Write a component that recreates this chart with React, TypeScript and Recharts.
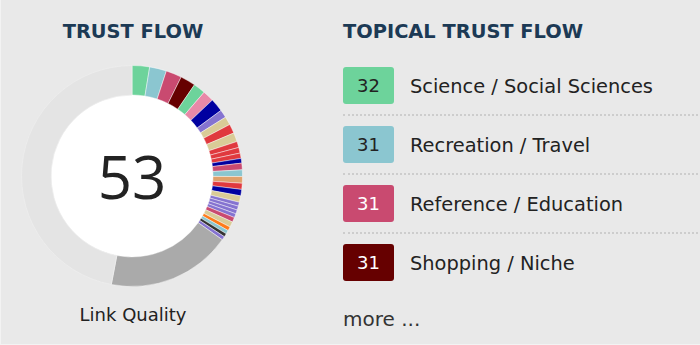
import React from "react"
import { PieChart, Pie, Cell } from "recharts"

// overall trust flow score, shown in the middle of the ring
const trustFlow = 53

// topical slices, clockwise from 12 o'clock (share of the whole ring, %)
const sliceColors = [
  "#6dd39b", "#8bc6d0", "#c94a70", "#660000", "#6dd39b", "#e888a8", "#0000a0", "#8573d0",
  "#d9cb97", "#e0393e", "#d9cb97", "#e0393e", "#e0393e", "#e0393e", "#0000a0", "#c94a70",
  "#8bc6d0", "#e0a06a", "#e0393e", "#0000a0", "#d9cb97", "#8573d0", "#8573d0", "#8573d0",
  "#8573d0", "#c94a70", "#d9cb97", "#ff7b1a", "#8bc6d0", "#333333", "#8573d0",
]
const sliceShares = [
  2.56, 2.47, 2.31, 2.22, 1.75, 1.64, 1.94, 1.17,
  1.22, 1.36, 1.31, 0.89, 0.83, 0.78, 0.69, 0.97,
  0.97, 0.97, 0.89, 0.94, 0.94, 0.58, 0.58, 0.58,
  0.58, 0.69, 0.81, 0.58, 0.53, 0.5, 0.53,
]

const topicScores = [32, 31, 31, 31]
const topicNames = ["Science / Social Sciences", "Recreation / Travel", "Reference / Education", "Shopping / Niche"]
const topicColors = ["#6dd39b", "#8bc6d0", "#c94a70", "#660000"]
const topicTextColors = ["#222", "#222", "#fff", "#fff"]

const topicalTotal = sliceShares.reduce((a, b) => a + b, 0)

const ringData = [
  ...sliceShares.map((share, i) => ({ name: `topic-${i}`, share, fill: sliceColors[i], stroke: "rgba(255,255,255,0.55)" })),
  { name: "other", share: trustFlow - topicalTotal, fill: "#aaaaaa", stroke: "rgba(255,255,255,0.55)" },
  { name: "rest", share: 100 - trustFlow, fill: "#e4e4e4", stroke: "#eeeeee" },
]
const holeData = [{ name: "hole", share: 100 }]

const font = "'DejaVu Sans', Verdana, sans-serif"
const headingStyle: React.CSSProperties = {
  position: "absolute",
  top: 22,
  fontFamily: font,
  fontWeight: "bold",
  fontSize: 19.4,
  lineHeight: "19px",
  color: "#1c3a55",
  whiteSpace: "nowrap",
}

export default function App() {
  return (
    <div
      style={{
        position: "absolute",
        left: 0,
        top: 0,
        width: 700,
        height: 345,
        background: "#e9e9e9",
        overflow: "hidden",
        boxSizing: "border-box",
        borderLeft: "1px solid #f3f3f3",
        borderBottom: "1px solid #f3f3f3",
      }}
    >
      <div style={{ position: "absolute", left: 0, top: 0 }}>
        <PieChart width={264} height={345} margin={{ top: 0, right: 0, bottom: 0, left: 0 }}>
          <Pie
            data={holeData}
            dataKey="share"
            cx={131}
            cy={176}
            innerRadius={0}
            outerRadius={81}
            fill="#ffffff"
            stroke="none"
            isAnimationActive={false}
          />
          <Pie
            data={ringData}
            dataKey="share"
            nameKey="name"
            cx={131}
            cy={176}
            innerRadius={81}
            outerRadius={110.5}
            startAngle={90}
            endAngle={-270}
            paddingAngle={0}
            isAnimationActive={false}
          >
            {ringData.map((d, i) => (
              <Cell key={`cell-${i}`} fill={d.fill} stroke={d.stroke} strokeWidth={0.8} />
            ))}
          </Pie>
        </PieChart>
      </div>

      <div style={{ ...headingStyle, left: 0, width: 264, textAlign: "center" }}>TRUST FLOW</div>

      <div
        style={{
          position: "absolute",
          left: 0,
          width: 262,
          top: 176 - 40,
          height: 80,
          lineHeight: "80px",
          textAlign: "center",
          fontFamily: "'Open Sans', sans-serif",
          fontSize: 60,
          color: "#222",
        }}
      >
        {trustFlow}
      </div>

      <div
        style={{
          position: "absolute",
          left: 0,
          width: 264,
          top: 304,
          lineHeight: "22px",
          textAlign: "center",
          fontFamily: font,
          fontSize: 18,
          color: "#222",
        }}
      >
        Link Quality
      </div>

      <div style={{ ...headingStyle, left: 342 }}>TOPICAL TRUST FLOW</div>

      {topicNames.map((name, i) => {
        const top = 67 + i * 59
        return (
          <React.Fragment key={name}>
            <div
              style={{
                position: "absolute",
                left: 342,
                top,
                width: 51,
                height: 37,
                borderRadius: 3,
                background: topicColors[i],
                color: topicTextColors[i],
                fontFamily: font,
                fontSize: 18,
                lineHeight: "37px",
                textAlign: "center",
              }}
            >
              {topicScores[i]}
            </div>
            <div
              style={{
                position: "absolute",
                left: 409,
                top: top + 1,
                height: 37,
                lineHeight: "37px",
                fontFamily: font,
                fontSize: 19.4,
                color: "#222",
                whiteSpace: "nowrap",
              }}
            >
              {name}
            </div>
            {i < topicNames.length - 1 && (
              <div
                style={{
                  position: "absolute",
                  left: 342,
                  right: 2,
                  top: top + 47,
                  borderTop: "2px dotted #cdcdcd",
                }}
              />
            )}
          </React.Fragment>
        )
      })}

      <div
        style={{
          position: "absolute",
          left: 342,
          top: 306,
          lineHeight: "26px",
          fontFamily: font,
          fontSize: 20,
          color: "#333",
        }}
      >
        more ...
      </div>
    </div>
  )
}
